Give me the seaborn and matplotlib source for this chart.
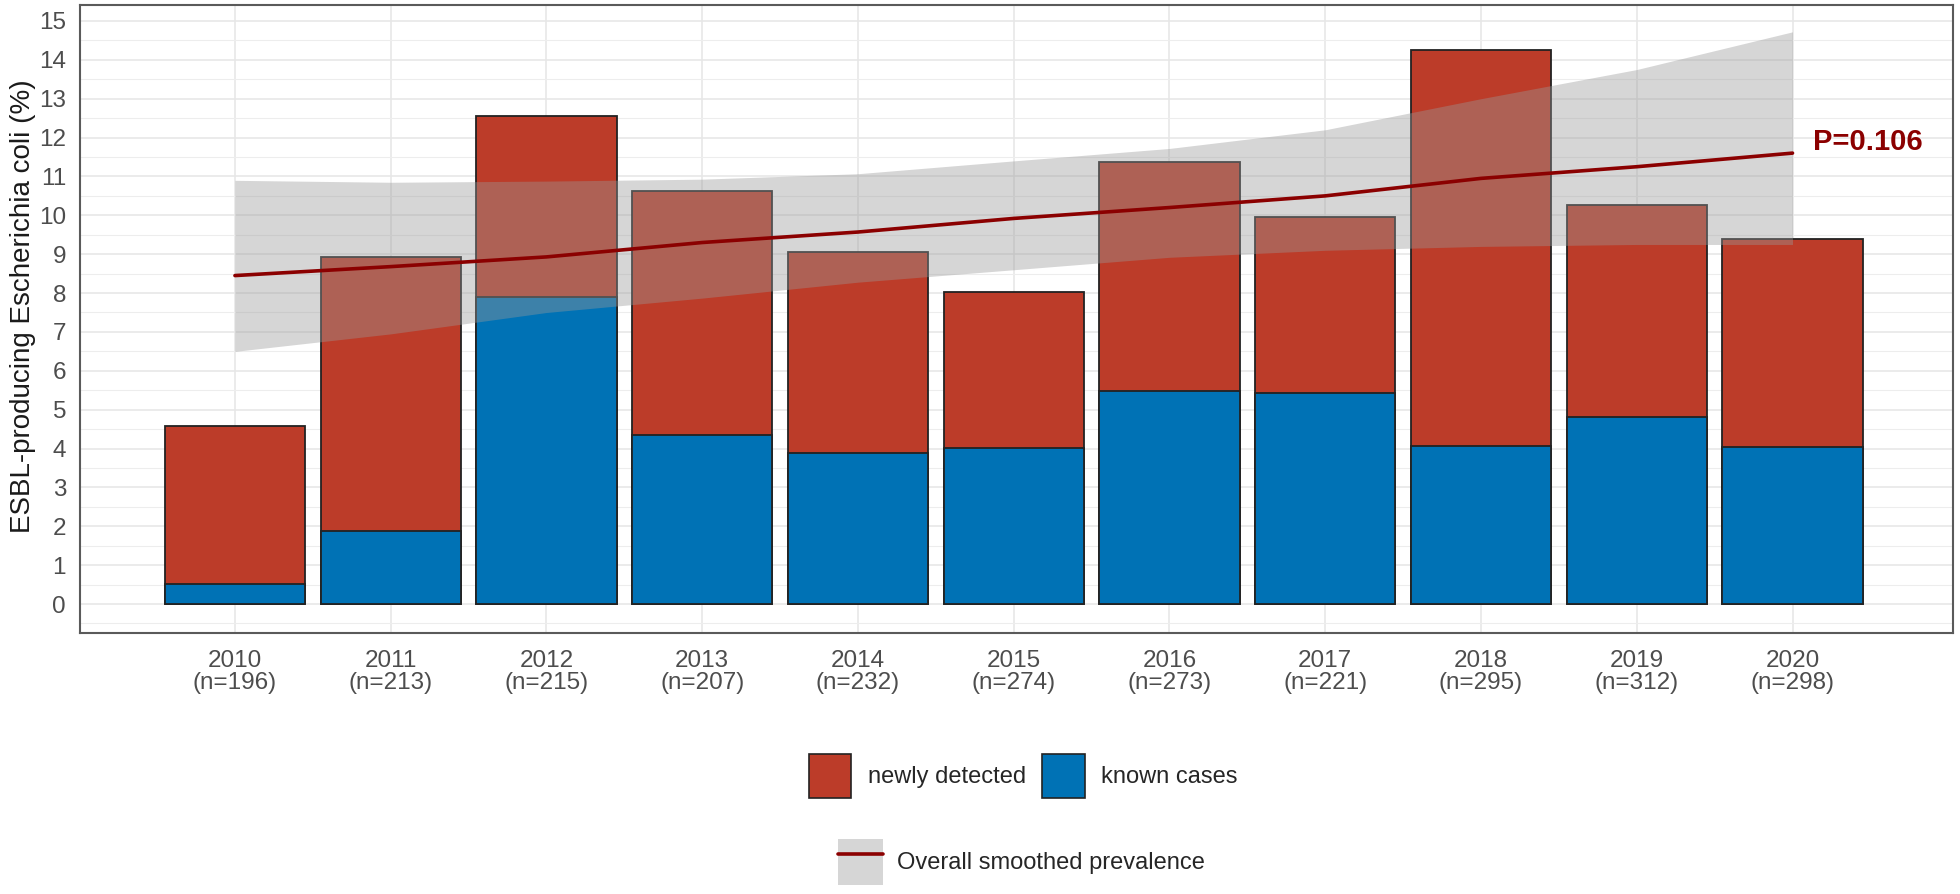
# =========================================
# ESBL-PRODUCING E. COLI PREVALENCE BY YEAR
# =========================================

import numpy as np
import pandas as pd
import matplotlib
matplotlib.use("Agg")
import matplotlib.pyplot as plt
import seaborn as sns
from matplotlib.patches import Patch
from matplotlib.lines import Line2D
from matplotlib.ticker import MultipleLocator

# -------------------------------
# DATA
# -------------------------------

years = [2010, 2011, 2012, 2013, 2014, 2015, 2016, 2017, 2018, 2019, 2020]
n_tested = [196, 213, 215, 207, 232, 274, 273, 221, 295, 312, 298]

# total prevalence (newly detected + known cases), in %
total_pct = [4.59, 8.92, 12.56, 10.63, 9.05, 8.03, 11.36, 9.95, 14.24, 10.26, 9.40]

# known cases only, in %
known_pct = [0.51, 1.88, 7.91, 4.35, 3.88, 4.01, 5.49, 5.43, 4.07, 4.81, 4.03]

# smoothed prevalence and its confidence band, in %
smooth_pct = [8.45, 8.68, 8.93, 9.30, 9.57, 9.92, 10.20, 10.50, 10.95, 11.25, 11.60]
smooth_lo = [6.50, 6.95, 7.50, 7.87, 8.28, 8.60, 8.92, 9.10, 9.20, 9.25, 9.25]
smooth_hi = [10.90, 10.85, 10.88, 10.93, 11.07, 11.40, 11.72, 12.20, 13.00, 13.75, 14.72]

p_label = "P=0.106"

labels = [f"{y}\n(n={n})" for y, n in zip(years, n_tested)]

df = pd.DataFrame({
    "label": labels,
    "total": total_pct,
    "known": known_pct,
})

RED = "#BC3C29"
BLUE = "#0072B5"
DARKRED = "#8B0000"
BAND = "#999999"

# -------------------------------
# STYLE
# -------------------------------

sns.set_style("white")
plt.rcParams["font.family"] = ["Liberation Sans", "DejaVu Sans"]

fig = plt.figure(figsize=(19.6, 8.94), dpi=100)
ax = fig.add_axes([0.0408, 0.2919, 0.9556, 0.7025])

# -------------------------------
# BARS
# -------------------------------

sns.barplot(
    data=df, x="label", y="total",
    color=RED, width=0.9, edgecolor="#222222", linewidth=1.3,
    saturation=1, ax=ax, zorder=2
)

sns.barplot(
    data=df, x="label", y="known",
    color=BLUE, width=0.9, edgecolor="#222222", linewidth=1.3,
    saturation=1, ax=ax, zorder=2
)

# -------------------------------
# SMOOTHED PREVALENCE
# -------------------------------

xpos = np.arange(len(years))

ax.fill_between(xpos, smooth_lo, smooth_hi, color=BAND, alpha=0.4,
                linewidth=0, zorder=3)
ax.plot(xpos, smooth_pct, color=DARKRED, linewidth=2.6, zorder=4)

ax.text(10.13, 11.88, p_label, color=DARKRED, fontsize=21,
        fontweight="bold", va="center", ha="left", zorder=5)

# -------------------------------
# AXES
# -------------------------------

ax.set_xlim(-0.995, 11.03)
ax.set_ylim(-0.746, 15.41)

ax.yaxis.set_major_locator(MultipleLocator(1))
ax.yaxis.set_minor_locator(MultipleLocator(0.5))

ax.set_axisbelow(True)
ax.grid(which="major", axis="both", color="#e6e6e6", linewidth=1.1)
ax.grid(which="minor", axis="y", color="#ededed", linewidth=0.8)

ax.set_xlabel("")
ax.set_ylabel("ESBL-producing Escherichia coli (%)", fontsize=20, color="#1a1a1a")
ax.yaxis.set_label_coords(-0.0235, 0.52)

ax.tick_params(axis="both", which="major", labelsize=17.5, labelcolor="#4d4d4d",
               color="#444444", length=5, width=1.2, direction="out")
ax.tick_params(axis="x", pad=7)
ax.tick_params(axis="y", pad=5)
ax.tick_params(axis="y", which="minor", length=0)
for lab in ax.get_xticklabels():
    lab.set_linespacing(1.0)

for s in ax.spines.values():
    s.set_color("#5a5a5a")
    s.set_linewidth(1.5)

# -------------------------------
# LEGENDS
# -------------------------------

bar_handles = [
    Patch(facecolor=RED, edgecolor="#222222", linewidth=1.2),
    Patch(facecolor=BLUE, edgecolor="#222222", linewidth=1.2),
]
fig.legend(
    bar_handles, ["newly detected", "known cases"],
    loc="center", bbox_to_anchor=(0.522, 0.132), ncol=2, frameon=False,
    fontsize=17, handlelength=1.8, handleheight=2.5,
    handletextpad=0.7, columnspacing=0.7
)

smooth_handle = (
    Patch(facecolor=BAND, alpha=0.4, linewidth=0),
    Line2D([0], [0], color=DARKRED, linewidth=2.6),
)
fig.legend(
    [smooth_handle], ["Overall smoothed prevalence"],
    loc="center", bbox_to_anchor=(0.521, 0.036), frameon=False,
    fontsize=17, handlelength=1.9, handleheight=2.6, handletextpad=0.6
)

plt.savefig("out.png", dpi=100)
plt.close()
